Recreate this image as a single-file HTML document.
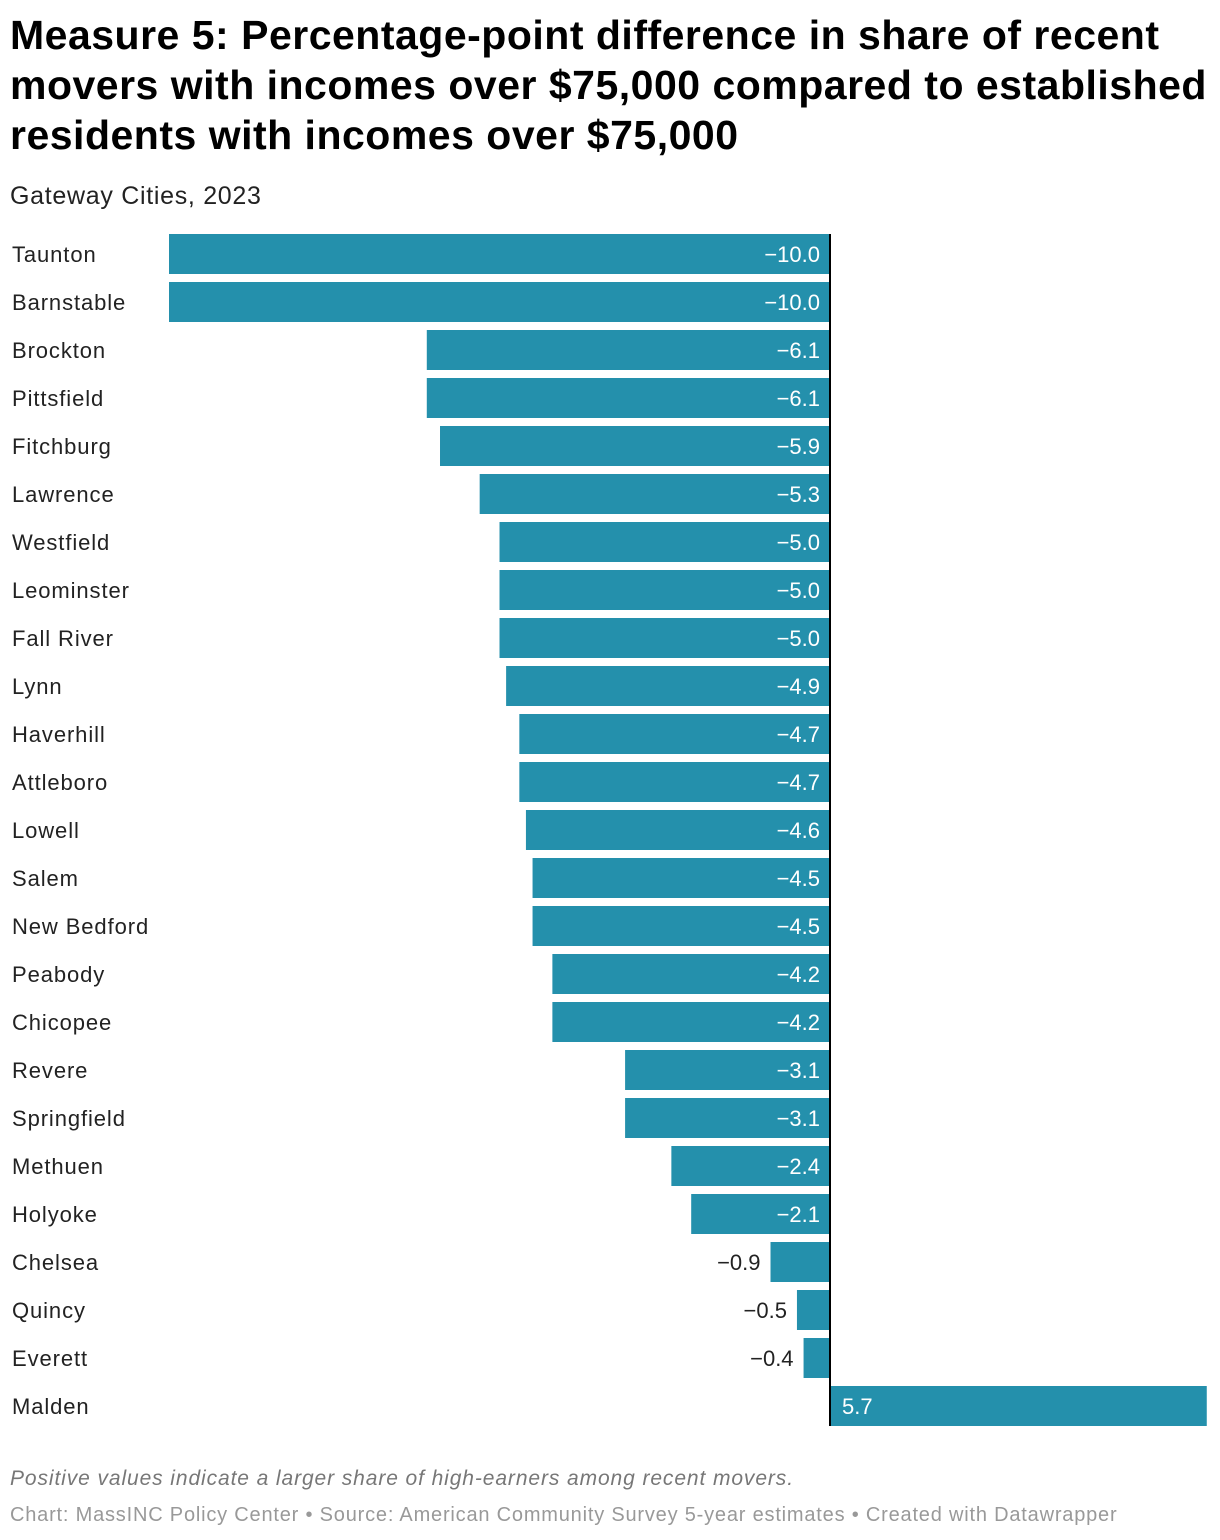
<!DOCTYPE html>
<html><head><meta charset="utf-8">
<style>
body{margin:0;width:1220px;height:1540px;background:#fff;font-family:"Liberation Sans",Roboto,sans-serif;position:relative;overflow:hidden}
#title{position:absolute;left:10px;top:10px;width:1210px;font-size:41px;font-weight:bold;line-height:50px;color:#000;letter-spacing:0.5px}
#sub{position:absolute;left:10px;top:182px;font-size:25px;color:#222;letter-spacing:0.7px}
#note{position:absolute;left:10px;top:1467px;font-size:21px;font-style:italic;color:#777;letter-spacing:0.9px}
#credit{position:absolute;left:10px;top:1504px;font-size:20px;color:#999;letter-spacing:0.8px}
svg{position:absolute;left:0;top:0}
</style></head><body>
<div id="title">Measure 5: Percentage-point difference in share of recent movers with incomes over $75,000 compared to established residents with incomes over $75,000</div>
<div id="sub">Gateway Cities, 2023</div>
<svg id="chart" width="1220" height="1540"></svg>
<div id="note">Positive values indicate a larger share of high-earners among recent movers.</div>
<div id="credit">Chart: MassINC Policy Center • Source: American Community Survey 5-year estimates • Created with Datawrapper</div>
<script>
const categories=["Taunton","Barnstable","Brockton","Pittsfield","Fitchburg","Lawrence","Westfield","Leominster","Fall River","Lynn","Haverhill","Attleboro","Lowell","Salem","New Bedford","Peabody","Chicopee","Revere","Springfield","Methuen","Holyoke","Chelsea","Quincy","Everett","Malden"];
const values=[-10.0,-10.0,-6.1,-6.1,-5.9,-5.3,-5.0,-5.0,-5.0,-4.9,-4.7,-4.7,-4.6,-4.5,-4.5,-4.2,-4.2,-3.1,-3.1,-2.4,-2.1,-0.9,-0.5,-0.4,5.7];
const svg=document.getElementById('chart');
const NS='http://www.w3.org/2000/svg';
const x0=830,scale=66.1,top0=234,step=48,bh=40;
const x=v=>x0+v*scale;
function mk(t,a){const e=document.createElementNS(NS,t);for(const k in a)e.setAttribute(k,a[k]);svg.appendChild(e);return e;}
const fmt=v=>(v<0?'\u2212':'')+Math.abs(v).toFixed(1);
categories.forEach((c,i)=>{
  const v=values[i],y=top0+i*step;
  const lab=mk('text',{x:12,y:y+28,'font-size':22,'letter-spacing':0.9,fill:'#222'});lab.textContent=c;
  
  
  const r=mk('rect',{x:Math.min(x(v),x0),y:y,width:Math.abs(x(v)-x0),height:bh,fill:'#2490ac'});
  
  
  const w=Math.abs(x(v)-x0);let t;
  if(v<0){
    if(w>70) t=mk('text',{x:x0-10,y:y+28,'font-size':22,fill:'#fff','text-anchor':'end'});
    else t=mk('text',{x:x(v)-10,y:y+28,'font-size':22,fill:'#222','text-anchor':'end'});
  } else {
    if(w>70) t=mk('text',{x:x0+12,y:y+28,'font-size':22,fill:'#fff'});
    else t=mk('text',{x:x(v)+10,y:y+28,'font-size':22,fill:'#222'});
  }
  t.textContent=fmt(v);
  
  
});
const ax=mk('line',{x1:x0,x2:x0,y1:top0,y2:top0+categories.length*step-8,stroke:'#000','stroke-width':2});


</script>
</body></html>
